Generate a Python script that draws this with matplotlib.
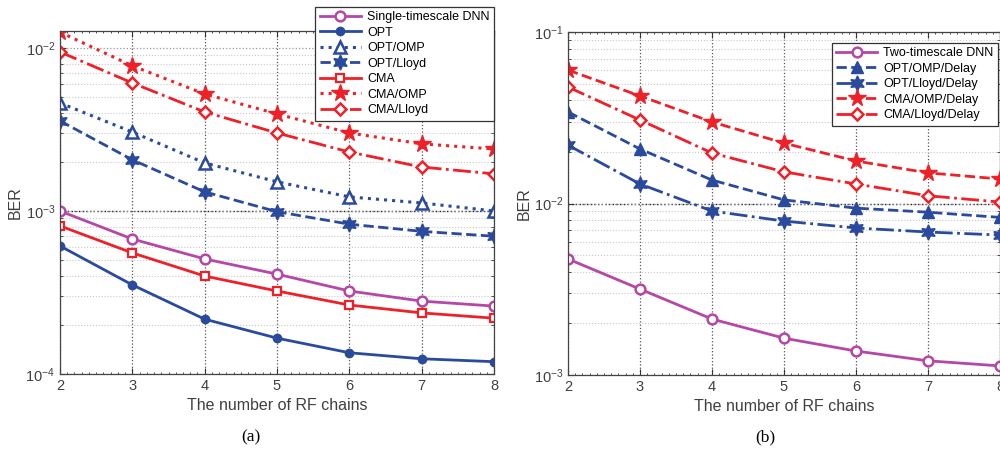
import matplotlib
matplotlib.use("Agg")
import math
import matplotlib.pyplot as plt
from matplotlib.ticker import LogLocator, MultipleLocator, FuncFormatter, NullFormatter

plt.rcParams['font.family'] = ['Liberation Sans', 'DejaVu Sans']
plt.rcParams['mathtext.fontset'] = 'custom'
plt.rcParams['mathtext.rm'] = 'Liberation Sans'

# ---- data ----
rf_chains = [2, 3, 4, 5, 6, 7, 8]

# (a)
single_dnn = [1.0e-3, 6.73e-4, 5.08e-4, 4.1e-4, 3.23e-4, 2.8e-4, 2.61e-4]
opt = [6.1e-4, 3.52e-4, 2.17e-4, 1.66e-4, 1.35e-4, 1.24e-4, 1.19e-4]
opt_omp = [4.6e-3, 3.05e-3, 1.97e-3, 1.51e-3, 1.22e-3, 1.12e-3, 1.0e-3]
opt_lloyd = [3.57e-3, 2.06e-3, 1.31e-3, 9.9e-4, 8.3e-4, 7.5e-4, 7.0e-4]
cma = [8.1e-4, 5.53e-4, 3.99e-4, 3.23e-4, 2.65e-4, 2.37e-4, 2.2e-4]
cma_omp = [1.25e-2, 7.77e-3, 5.22e-3, 3.94e-3, 3.01e-3, 2.58e-3, 2.4e-3]
cma_lloyd = [9.45e-3, 6.1e-3, 4.05e-3, 3.01e-3, 2.3e-3, 1.86e-3, 1.69e-3]

# (b)
two_dnn = [4.75e-3, 3.17e-3, 2.12e-3, 1.64e-3, 1.38e-3, 1.21e-3, 1.13e-3]
opt_omp_d = [3.42e-2, 2.08e-2, 1.37e-2, 1.05e-2, 9.4e-3, 8.9e-3, 8.3e-3]
opt_lloyd_d = [2.19e-2, 1.3e-2, 9.04e-3, 7.9e-3, 7.2e-3, 6.82e-3, 6.55e-3]
cma_omp_d = [6.0e-2, 4.24e-2, 2.99e-2, 2.25e-2, 1.77e-2, 1.51e-2, 1.39e-2]
cma_lloyd_d = [4.78e-2, 3.07e-2, 1.97e-2, 1.53e-2, 1.3e-2, 1.11e-2, 1.02e-2]

blue = '#2A4A9E'
red = '#EE2028'
mag = '#B548A6'
hexa = (6, 1, 0)

fig = plt.figure(figsize=(10, 4.57), dpi=100)
ax1 = fig.add_axes([0.06, 0.1816, 0.434, 0.7505])
ax2 = fig.add_axes([0.568, 0.1794, 0.432, 0.7505])


def style_axes(ax, ylo, yhi, dark_major):
    ax.set_yscale('log')
    ax.set_xlim(2, 8)
    ax.set_ylim(ylo, yhi)
    ax.xaxis.set_major_locator(MultipleLocator(1))
    ax.xaxis.set_minor_locator(MultipleLocator(0.1))
    ax.yaxis.set_major_locator(LogLocator(base=10, numticks=10))
    ax.yaxis.set_minor_locator(LogLocator(base=10, subs=range(2, 10), numticks=10))
    ax.yaxis.set_minor_formatter(NullFormatter())
    ax.yaxis.set_major_formatter(FuncFormatter(
        lambda v, p: r'$\mathregular{10^{%d}}$' % round(math.log10(v))))
    ax.tick_params(which='both', direction='in', top=True, right=True,
                   colors='#333333', labelcolor='#404040', labelsize=10.5)
    ax.tick_params(which='major', length=4, width=0.8)
    ax.tick_params(which='minor', length=2, width=0.6)
    ax.tick_params(axis='x', which='minor', length=1.5)
    ax.grid(True, which='major', axis='x', linestyle=':', color='#555555', linewidth=0.9)
    ax.grid(True, which='major', axis='y', linestyle=':', color='#999999', linewidth=0.9)
    ax.grid(True, which='minor', axis='y', linestyle=':', color='#C8C8C8', linewidth=0.8)
    for v in dark_major:
        ax.axhline(v, linestyle=':', color='#222222', linewidth=1.0, zorder=0.5)
    for s in ax.spines.values():
        s.set_color('#444444')
        s.set_linewidth(0.9)
    ax.set_xlabel('The number of RF chains', fontsize=11.5, color='#404040')
    ax.set_ylabel('BER', fontsize=11.5, color='#404040')


lw = 2.0
ms = 7
ax1.plot(rf_chains, single_dnn, '-', color=mag, lw=lw, marker='o', ms=ms, mfc='white', mew=1.8,
         label='Single-timescale DNN')
ax1.plot(rf_chains, opt, '-', color=blue, lw=lw, marker='o', ms=6, label='OPT')
ax1.plot(rf_chains, opt_omp, ':', color=blue, lw=2.2, marker='^', ms=9, mfc='white', mew=1.8,
         label='OPT/OMP')
ax1.plot(rf_chains, opt_lloyd, '--', color=blue, lw=lw, marker=hexa, ms=11, label='OPT/Lloyd')
ax1.plot(rf_chains, cma, '-', color=red, lw=lw, marker='s', ms=6, mfc='white', mew=1.6, label='CMA')
ax1.plot(rf_chains, cma_omp, ':', color=red, lw=2.2, marker='*', ms=13, label='CMA/OMP')
ax1.plot(rf_chains, cma_lloyd, '-.', color=red, lw=lw, marker='D', ms=6.5, mfc='white', mew=1.8,
         label='CMA/Lloyd')
style_axes(ax1, 1e-4, 1.27e-2, [1e-3])
ax1.yaxis.set_label_coords(-0.085, 0.5)
leg1 = ax1.legend(loc='upper right', bbox_to_anchor=(0.494, 0.985), bbox_transform=fig.transFigure,
                  borderaxespad=0, fontsize=9, handlelength=3.3, framealpha=1, fancybox=False,
                  edgecolor='#333333', borderpad=0.35, labelspacing=0.28, handletextpad=0.5)
leg1.get_frame().set_linewidth(0.9)

ax2.plot(rf_chains, two_dnn, '-', color=mag, lw=lw, marker='o', ms=ms, mfc='white', mew=1.8,
         label='Two-timescale DNN')
ax2.plot(rf_chains, opt_omp_d, '--', color=blue, lw=lw, marker='^', ms=9, label='OPT/OMP/Delay')
ax2.plot(rf_chains, opt_lloyd_d, '-.', color=blue, lw=lw, marker=hexa, ms=11, label='OPT/Lloyd/Delay')
ax2.plot(rf_chains, cma_omp_d, '--', color=red, lw=lw, marker='*', ms=13, label='CMA/OMP/Delay')
ax2.plot(rf_chains, cma_lloyd_d, '-.', color=red, lw=lw, marker='D', ms=6.5, mfc='white', mew=1.8,
         label='CMA/Lloyd/Delay')
style_axes(ax2, 1e-3, 1e-1, [1e-2])
ax2.yaxis.set_label_coords(-0.085, 0.5)
leg2 = ax2.legend(loc='upper right', bbox_to_anchor=(0.998, 0.906), bbox_transform=fig.transFigure,
                  borderaxespad=0, fontsize=9, handlelength=3.3, framealpha=1, fancybox=False,
                  edgecolor='#333333', borderpad=0.35, labelspacing=0.28, handletextpad=0.5)
leg2.get_frame().set_linewidth(0.9)

fig.text(0.251, 0.035, '(a)', fontsize=12.5, family=['Liberation Serif'], ha='center')
fig.text(0.765, 0.035, '(b)', fontsize=12.5, family=['Liberation Serif'], ha='center')

fig.savefig('out.png', dpi=100)
